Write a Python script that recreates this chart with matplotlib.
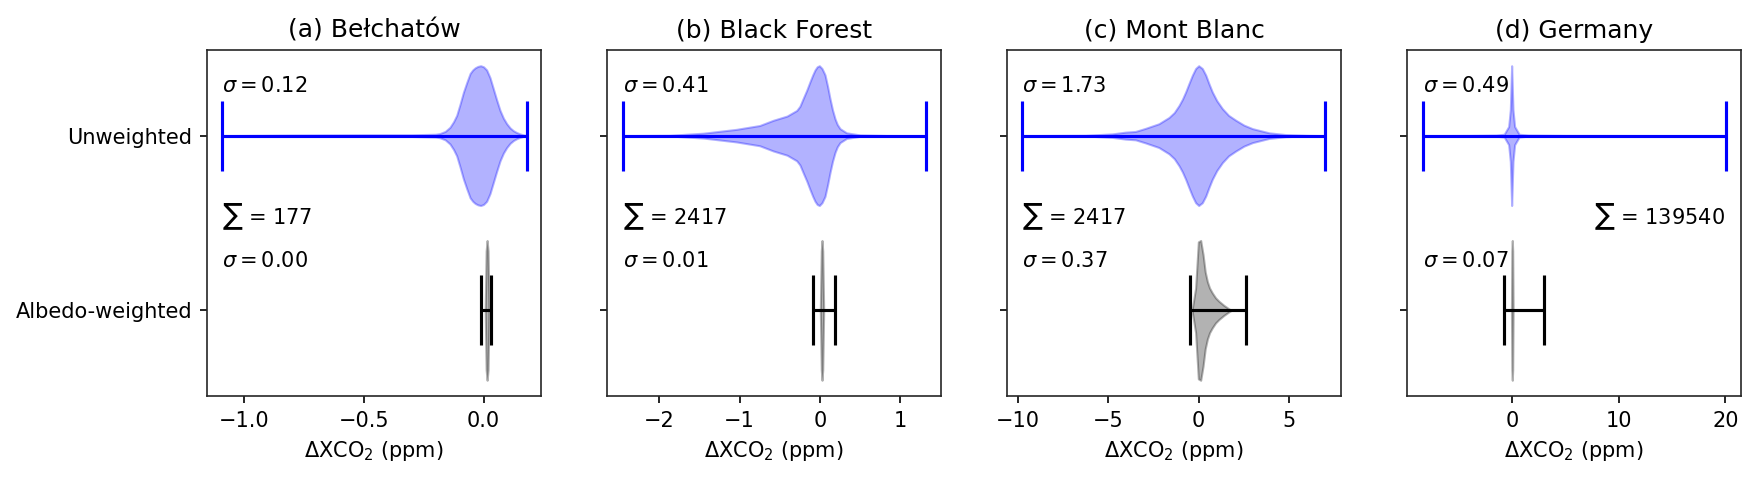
import matplotlib
matplotlib.use('Agg')
import matplotlib.pyplot as plt

# panel titles and axis ranges
titles = ['(a) Bełchatów', '(b) Black Forest', '(c) Mont Blanc', '(d) Germany']
xlims = [(-1.155, 0.24), (-2.65, 1.505), (-10.59, 7.86), (-9.87, 21.47)]
xticks = [[-1.0, -0.5, 0.0], [-2, -1, 0, 1], [-10, -5, 0, 5], [0, 10, 20]]
categories = ['Albedo-weighted', 'Unweighted']

# unweighted distributions: extrema and density profile (relative width)
unw_min = [-1.091, -2.447, -9.76, -8.40]
unw_max = [0.181, 1.318, 6.99, 20.11]
unw_coords = [
    [-1.091, -0.8, -0.5, -0.3, -0.2, -0.182, -0.16, -0.14, -0.125, -0.112, -0.098, -0.084,
     -0.07, -0.056, -0.045, -0.035, -0.024, -0.012, 0.0, 0.013, 0.027, 0.041, 0.055,
     0.069, 0.083, 0.097, 0.111, 0.125, 0.138, 0.152, 0.165, 0.181],
    [-2.447, -1.87, -1.45, -1.04, -0.75, -0.58, -0.41, -0.29, -0.25, -0.21, -0.165, -0.125,
     -0.09, -0.062, -0.035, -0.008, 0.025, 0.062, 0.095, 0.124, 0.155, 0.187, 0.215,
     0.249, 0.33, 0.5, 0.83, 1.318],
    [-9.76, -6.25, -4.78, -4.04, -3.49, -2.93, -2.2, -1.64, -1.35, -1.09, -0.9, -0.72,
     -0.53, -0.35, -0.17, 0.0, 0.2, 0.39, 0.57, 0.75, 1.0, 1.31, 1.65, 2.05, 2.5,
     2.97, 3.89, 4.81, 6.1, 6.99],
    [-8.40, -4.0, -1.5, -0.75, -0.60, -0.33, -0.175, -0.11, -0.05,
     0.01, 0.075, 0.23, 0.50, 0.65, 1.5, 5.0, 20.11],
]
unw_vals = [
    [0.0, 0.008, 0.012, 0.012, 0.02, 0.03, 0.06, 0.12, 0.2, 0.29, 0.45, 0.62,
     0.76, 0.89, 0.94, 0.97, 0.99, 1.0, 0.985, 0.94, 0.83, 0.67, 0.51,
     0.36, 0.25, 0.17, 0.11, 0.07, 0.045, 0.025, 0.012, 0.0],
    [0.0, 0.005, 0.035, 0.09, 0.145, 0.22, 0.28, 0.36, 0.42, 0.53, 0.65, 0.77,
     0.87, 0.94, 0.985, 1.0, 0.96, 0.87, 0.7, 0.53, 0.37, 0.24, 0.16,
     0.10, 0.04, 0.01, 0.002, 0.0],
    [0.0, 0.005, 0.025, 0.05, 0.06, 0.105, 0.17, 0.26, 0.33, 0.43, 0.52, 0.625,
     0.75, 0.865, 0.96, 1.0, 0.96, 0.865, 0.74, 0.625, 0.5, 0.385, 0.29, 0.22, 0.15,
     0.10, 0.04, 0.015, 0.003, 0.0],
    [0.0, 0.003, 0.008, 0.02, 0.06, 0.13, 0.37, 0.7, 1.0,
     0.7, 0.37, 0.13, 0.06, 0.02, 0.008, 0.003, 0.0],
]

# albedo-weighted distributions
alb_min = [-0.009, -0.083, -0.48, -0.74]
alb_max = [0.030, 0.19, 2.63, 3.02]
alb_coords = [
    [0.007, 0.011, 0.015, 0.019, 0.023],
    [0.004, 0.016, 0.025, 0.034, 0.046],
    [-0.35, -0.17, -0.02, 0.11, 0.24, 0.36, 0.48, 0.6, 0.75, 0.93, 1.12, 1.4, 1.68, 1.8],
    [-0.07, -0.03, 0.01, 0.05, 0.09],
]
alb_vals = [
    [0.0, 0.85, 1.0, 0.85, 0.0],
    [0.0, 0.85, 1.0, 0.85, 0.0],
    [0.03, 0.32, 0.98, 1.0, 0.8, 0.55, 0.41, 0.32, 0.25, 0.18, 0.13, 0.07, 0.02, 0.0],
    [0.0, 0.85, 1.0, 0.85, 0.0],
]

sigma_unw = [0.12, 0.41, 1.73, 0.49]
sigma_alb = [0.00, 0.01, 0.37, 0.07]
counts = [177, 2417, 2417, 139540]
count_x = [-1.091, -2.447, -9.76, 7.7]

plt.rcParams['axes.edgecolor'] = '0.15'

fig, axes = plt.subplots(1, 4, figsize=(1760 / 150, 479 / 150), dpi=150, sharey=True)
fig.subplots_adjust(left=0.1176, right=0.9892, top=0.8956, bottom=0.1733, wspace=0.1976)


def draw_violin(ax, coords, vals, vmin, vmax, pos, color):
    stats = [{'coords': coords, 'vals': vals, 'mean': 0.0, 'median': 0.0,
              'min': vmin, 'max': vmax, 'quantiles': []}]
    try:
        parts = ax.violin(stats, positions=[pos], orientation='horizontal',
                          widths=0.8, showextrema=True)
    except TypeError:
        parts = ax.violin(stats, positions=[pos], vert=False,
                          widths=0.8, showextrema=True)
    for body in parts['bodies']:
        body.set_facecolor(color)
        body.set_edgecolor(color)
        body.set_alpha(0.3)
    for key in ['cbars', 'cmins', 'cmaxes']:
        parts[key].set_color(color)
        parts[key].set_linewidth(1.5)


for i, ax in enumerate(axes):
    draw_violin(ax, unw_coords[i], unw_vals[i], unw_min[i], unw_max[i], 1, 'blue')
    draw_violin(ax, alb_coords[i], alb_vals[i], alb_min[i], alb_max[i], 0, 'black')

    ax.text(unw_min[i], 1.283, r'$\sigma = %.2f$' % sigma_unw[i], ha='left', va='center')
    ax.text(unw_min[i], 0.283, r'$\sigma = %.2f$' % sigma_alb[i], ha='left', va='center')
    ax.text(count_x[i], 0.535, r'$\sum$ = %d' % counts[i], ha='left', va='center')

    ax.set_xlim(xlims[i])
    ax.set_xticks(xticks[i])
    ax.set_ylim(-0.49, 1.49)
    ax.set_title(titles[i])
    ax.set_xlabel(r'$\Delta$XCO$_2$ (ppm)')

axes[0].set_yticks([0, 1])
axes[0].set_yticklabels(categories)

fig.savefig('out.png', dpi=150)
